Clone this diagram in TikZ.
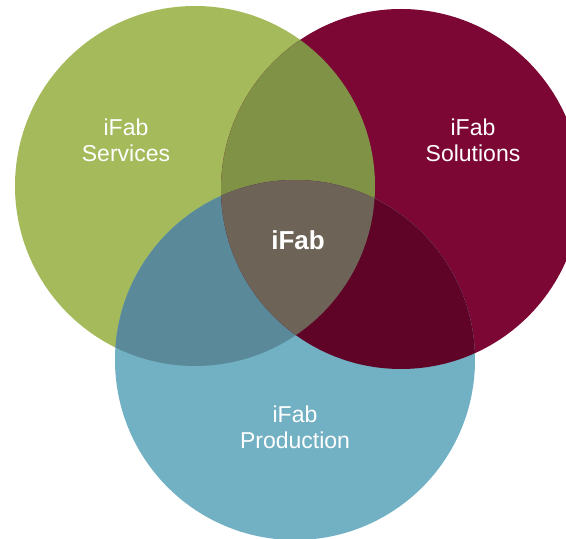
\documentclass[tikz,border=0pt]{standalone}
\usepackage{fontspec}
\setmainfont{Liberation Sans}
\begin{document}
\begin{tikzpicture}[x=1pt,y=1pt]
  \definecolor{kGreen}{RGB}{164,186,91}
  \definecolor{kRed}{RGB}{124,7,52}
  \definecolor{kBlue}{RGB}{114,176,195}
  \definecolor{kOlive}{RGB}{127,146,69}
  \definecolor{kTeal}{RGB}{90,138,153}
  \definecolor{kWine}{RGB}{96,4,39}
  \definecolor{kTaupe}{RGB}{109,100,87}
  \tikzset{label/.style={text=white,align=center,font=\fontsize{23}{26}\selectfont}}

  \useasboundingbox (0,0) rectangle (566,539);
  \clip (0,0) rectangle (566,539);

  \fill[kGreen] (195,353) circle (180);
  \fill[kRed] (401,350) circle (180);
  \fill[kBlue] (295,179) circle (180);

  \begin{scope}
    \clip (195,353) circle (180);
    \fill[kOlive] (401,350) circle (180);
    \fill[kTeal] (295,179) circle (180);
  \end{scope}
  \begin{scope}
    \clip (401,350) circle (180);
    \fill[kWine] (295,179) circle (180);
    \clip (195,353) circle (180);
    \fill[kTaupe] (295,179) circle (180);
  \end{scope}

  \node[label] (services) at (126,399) {iFab\\Services};
  \node[label] (solutions) at (473,399) {iFab\\Solutions};
  \node[label] (production) at (295,112) {iFab\\Production};
  \node[label,font=\bfseries\fontsize{26}{30}\selectfont] (ifab) at (298,299) {iFab};
\end{tikzpicture}
\end{document}
